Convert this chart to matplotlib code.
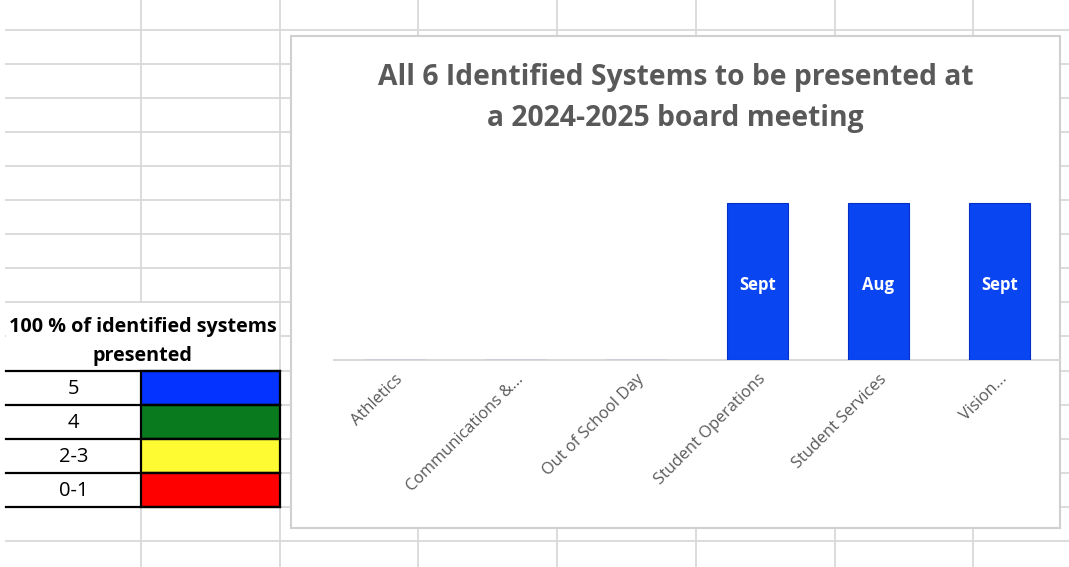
import matplotlib
matplotlib.use('Agg')
import matplotlib.pyplot as plt
from matplotlib.patches import Rectangle

# ----------- data ----------- #
categories = ['Athletics', 'Communications &...', 'Out of School Day',
              'Student Operations', 'Student Services', 'Vision...']
presented = [0, 0, 0, 1, 1, 1]
month_labels = ['', '', '', 'Sept', 'Aug', 'Sept']

title = 'All 6 Identified Systems to be presented at\na 2024-2025 board meeting'

key_title = '100 % of identified systems\npresented'
key_labels = ['5', '4', '2-3', '0-1']
key_colors = ['#0433FF', '#0A7A1E', '#FFFB33', '#FF0000']

W, H = 1069, 567
plt.rcParams['font.family'] = ['Open Sans', 'DejaVu Sans']

fig = plt.figure(figsize=(W / 100, H / 100), dpi=100)
fig.patch.set_facecolor('white')

# ----------- spreadsheet background (pixel coords) ----------- #
bg = fig.add_axes([0, 0, 1, 1])
bg.set_xlim(0, W)
bg.set_ylim(H, 0)
bg.axis('off')

grid_c = '#D9D9D9'
row_h = 34.1
col_w = 138.7
rows = [29.5 + row_h * k for k in range(16)]
cols = [141 + col_w * k for k in range(7)]

for y in rows:
    bg.plot([6, W], [y, y], color=grid_c, lw=1.3, zorder=1)
for x in cols:
    if x < 150:
        # merged header cell interrupts the column line
        bg.plot([x, x], [0, rows[8]], color=grid_c, lw=1.3, zorder=1)
        bg.plot([x, x], [rows[10], H], color=grid_c, lw=1.3, zorder=1)
    else:
        bg.plot([x, x], [0, H], color=grid_c, lw=1.3, zorder=1)
# hide row line inside merged header
bg.add_patch(Rectangle((6, rows[8] + 1), cols[1] - 7, row_h * 2 - 2,
                       facecolor='white', edgecolor='none', zorder=2))

# key table
bg.text((6 + cols[1]) / 2, rows[8] + row_h + 5, key_title, ha='center', va='center',
        fontsize=14.2, fontweight='bold', color='black', linespacing=1.6, zorder=3)
for i, (lab, col) in enumerate(zip(key_labels, key_colors)):
    top = rows[10] + i * row_h
    bg.add_patch(Rectangle((cols[0], top), cols[1] - cols[0], row_h,
                           facecolor=col, edgecolor='black', lw=1.6, zorder=3))
    bg.add_patch(Rectangle((6, top), cols[0] - 6, row_h,
                           facecolor='white', edgecolor='none', zorder=2))
    bg.plot([6, cols[1]], [top, top], color='black', lw=1.6, zorder=4)
    bg.text((6 + cols[0]) / 2, top + row_h / 2 + 1, lab, ha='center', va='center',
            fontsize=14.5, color='black', zorder=4)
bg.plot([6, cols[1]], [rows[14], rows[14]], color='black', lw=1.6, zorder=4)

# chart area
bg.add_patch(Rectangle((291, 36), 769, 492, facecolor='white',
                       edgecolor='#D0D0D0', lw=1.5, zorder=5))
bg.text(675.5, 98, title, ha='center', va='center', fontsize=20.3,
        fontweight='bold', color='#595959', linespacing=1.58, zorder=6)

# ----------- bar chart ----------- #
ax = fig.add_axes([334 / W, (H - 360) / H, 726 / W, 188.4 / H], zorder=10)
ax.patch.set_alpha(0)
x = range(len(categories))
bars = ax.bar(x, presented, width=0.51, color='#0A45F2',
              edgecolor='#0530C8', linewidth=0.8, zorder=3)
for b, lab in zip(bars, month_labels):
    if lab:
        ax.text(b.get_x() + b.get_width() / 2, b.get_height() / 2 - 0.02, lab,
                ha='center', va='center', color='white', fontsize=12,
                fontweight='bold', zorder=4)

ax.set_xlim(-0.5, len(categories) - 0.5)
ax.set_ylim(0, 1.2)
for s in ['top', 'left', 'right']:
    ax.spines[s].set_visible(False)
ax.spines['bottom'].set_color('#D9D9D9')
ax.spines['bottom'].set_linewidth(1.5)
ax.set_yticks([])
ax.set_xticks(list(x))
ax.set_xticklabels(categories, rotation=45, ha='right', va='top',
                   rotation_mode='anchor', fontsize=11.8, color='#595959')
ax.tick_params(axis='x', length=0, pad=8)

fig.savefig('out.png', dpi=100)
